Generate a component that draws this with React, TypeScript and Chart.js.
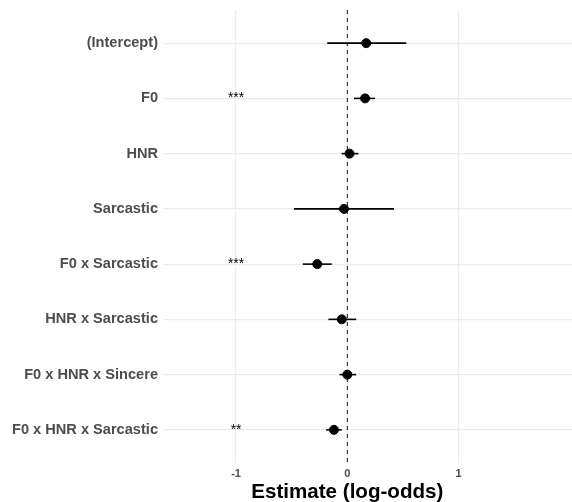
import React, { useEffect, useRef } from "react";
import { Chart, registerables } from "chart.js";

Chart.register(...registerables);

const terms = [
  "(Intercept)",
  "F0",
  "HNR",
  "Sarcastic",
  "F0 x Sarcastic",
  "HNR x Sarcastic",
  "F0 x HNR x Sincere",
  "F0 x HNR x Sarcastic",
];
const estimates = [0.17, 0.16, 0.02, -0.03, -0.27, -0.05, 0.0, -0.12];
const lower = [-0.18, 0.06, -0.05, -0.48, -0.4, -0.17, -0.07, -0.19];
const upper = [0.53, 0.25, 0.1, 0.42, -0.14, 0.08, 0.08, -0.05];
const stars = ["", "***", "", "", "***", "", "", "**"];
const xTicks = [-1, 0, 1];
const starX = -1;
const xTitle = "Estimate (log-odds)";

const FONT = "'Liberation Sans', Arial, sans-serif";

function zeroPad(s: any) {
  s.paddingTop = 0;
  s.paddingBottom = 0;
  s.paddingLeft = 0;
  s.paddingRight = 0;
}

export default function App() {
  const ref = useRef<HTMLCanvasElement>(null);

  useEffect(() => {
    document.body.style.margin = "0";
    const canvas = ref.current!;
    const annot = {
      id: "annot",
      afterDatasetsDraw(chart: any) {
        const { ctx } = chart;
        const xs = chart.scales.x;
        const ys = chart.scales.y;
        ctx.save();
        ctx.fillStyle = "#000";
        ctx.font = `normal 14px ${FONT}`;
        ctx.textAlign = "center";
        ctx.textBaseline = "middle";
        stars.forEach((s, i) => {
          if (s) ctx.fillText(s, xs.getPixelForValue(starX), ys.getPixelForValue(i));
        });
        ctx.font = `bold 20.6px ${FONT}`;
        ctx.textBaseline = "alphabetic";
        ctx.fillText(xTitle, xs.getPixelForValue(0), 498);
        ctx.restore();
      },
    };

    const errorSets = terms.map((_, i) => ({
      type: "line" as const,
      data: [
        { x: lower[i], y: i },
        { x: upper[i], y: i },
      ],
      borderColor: "#000",
      borderWidth: 1.6,
      pointRadius: 0,
      fill: false,
      order: 2,
    }));

    const chart = new Chart(canvas, {
      type: "scatter",
      data: {
        datasets: [
          {
            type: "line",
            data: [
              { x: 0, y: -0.6 },
              { x: 0, y: 7.6 },
            ],
            borderColor: "#222",
            borderWidth: 1.1,
            borderDash: [4, 4],
            pointRadius: 0,
            order: 3,
          } as any,
          ...errorSets,
          {
            type: "scatter",
            data: estimates.map((e, i) => ({ x: e, y: i })),
            backgroundColor: "#000",
            borderColor: "#000",
            pointRadius: 4.5,
            order: 1,
          } as any,
        ],
      },
      options: {
        animation: false,
        responsive: false,
        layout: { autoPadding: false, padding: { top: 10, left: 0, right: 0, bottom: 0 } },
        plugins: {
          legend: { display: false },
          tooltip: { enabled: false },
        },
        scales: {
          x: {
            type: "linear",
            min: -1.648,
            max: 2.02,
            afterBuildTicks: (s: any) => {
              s.ticks = xTicks.map((v) => ({ value: v }));
            },
            afterFit: (s: any) => {
              s.height = 39;
              zeroPad(s);
            },
            ticks: {
              padding: 4,
              color: "#4d4d4d",
              font: { family: FONT, size: 11, weight: "bold" },
              callback: (v: any) => String(v),
            },
            grid: { color: "#ebebeb", lineWidth: 1.2, drawTicks: false },
            border: { display: false },
          },
          y: {
            type: "linear",
            reverse: true,
            min: -0.6,
            max: 7.6,
            afterBuildTicks: (s: any) => {
              s.ticks = terms.map((_, i) => ({ value: i }));
            },
            afterFit: (s: any) => {
              s.width = 164;
              zeroPad(s);
            },
            ticks: {
              padding: 6,
              color: "#4d4d4d",
              font: { family: FONT, size: 14.6, weight: "bold" },
              callback: (v: any) => terms[v] ?? "",
            },
            grid: { color: "#ebebeb", lineWidth: 1.2, drawTicks: false },
            border: { display: false },
          },
        },
      },
      plugins: [annot],
    });
    return () => chart.destroy();
  }, []);

  return <canvas ref={ref} width={572} height={502} style={{ display: "block" }} />;
}
